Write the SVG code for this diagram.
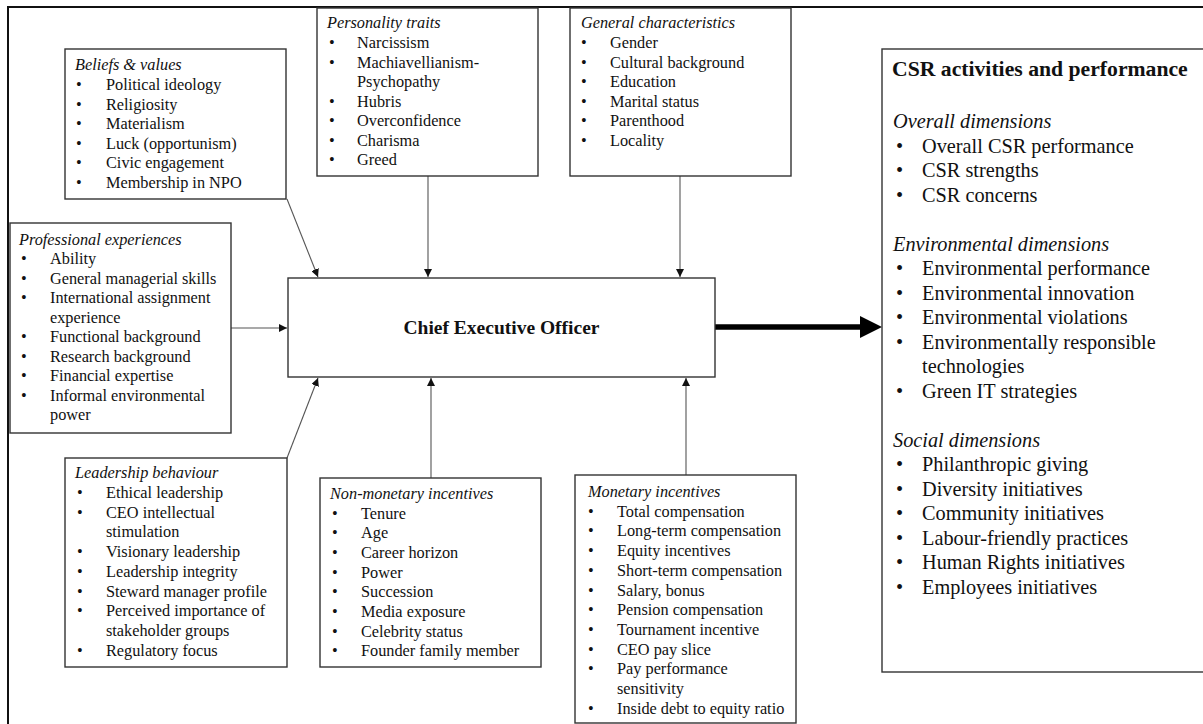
<svg xmlns="http://www.w3.org/2000/svg" width="1203" height="724" viewBox="0 0 1203 724">
  <defs>
    <marker id="tip" viewBox="0 0 10 10" refX="10" refY="5" markerWidth="8" markerHeight="8" markerUnits="userSpaceOnUse" orient="auto">
      <path d="M0,0 L10,5 L0,10 z" fill="#111"/>
    </marker>
    <style>
      .frame { fill: none; stroke: #111; stroke-width: 2; }
      .box { fill: #fff; stroke: #333; stroke-width: 1.4; }
      .t { font-family: "Liberation Serif", "Times New Roman", serif; font-size: 16.3px; fill: #111; }
      .big { font-size: 20.3px; }
      .it { font-style: italic; }
      .bold { font-weight: bold; }
      .link { fill: none; stroke: #555; stroke-width: 1.1; marker-end: url(#tip); }
      .main { fill: none; stroke: #000; stroke-width: 5.5; }
    </style>
  </defs>

  <rect width="1203" height="724" fill="#fff"/>

  <!-- outer frame (open at right and bottom) -->
  <path class="frame" d="M8,730 L8,7 L1210,7"/>

  <!-- connectors -->
  <g id="connectors">
    <line class="link" x1="287" y1="199" x2="318" y2="277"/>
    <line class="link" x1="428" y1="176" x2="428" y2="277"/>
    <line class="link" x1="680" y1="176" x2="680" y2="277"/>
    <line class="link" x1="231" y1="328" x2="287" y2="328"/>
    <line class="link" x1="287" y1="458" x2="318" y2="378"/>
    <line class="link" x1="431" y1="478" x2="431" y2="378"/>
    <line class="link" x1="686" y1="475" x2="686" y2="378"/>
    <line class="main" x1="715" y1="327" x2="864" y2="327"/>
    <path d="M860,316 L882,327 L860,338 z" fill="#000"/>
  </g>

  <!-- Beliefs & values -->
  <g id="beliefs">
    <rect class="box" x="65" y="49" width="221" height="150"/>
    <text class="t it" x="75" y="70">Beliefs &amp; values</text>
    <text class="t">
      <tspan x="76" y="90">•</tspan><tspan x="106" y="90">Political ideology</tspan>
      <tspan x="76" y="109.5">•</tspan><tspan x="106" y="109.5">Religiosity</tspan>
      <tspan x="76" y="129">•</tspan><tspan x="106" y="129">Materialism</tspan>
      <tspan x="76" y="148.5">•</tspan><tspan x="106" y="148.5">Luck (opportunism)</tspan>
      <tspan x="76" y="168">•</tspan><tspan x="106" y="168">Civic engagement</tspan>
      <tspan x="76" y="187.5">•</tspan><tspan x="106" y="187.5">Membership in NPO</tspan>
    </text>
  </g>

  <!-- Personality traits -->
  <g id="personality">
    <rect class="box" x="317" y="8" width="221" height="168"/>
    <text class="t it" x="327" y="28">Personality traits</text>
    <text class="t">
      <tspan x="329" y="48">•</tspan><tspan x="357" y="48">Narcissism</tspan>
      <tspan x="329" y="67.5">•</tspan><tspan x="357" y="67.5">Machiavellianism-</tspan>
      <tspan x="357" y="87">Psychopathy</tspan>
      <tspan x="329" y="106.5">•</tspan><tspan x="357" y="106.5">Hubris</tspan>
      <tspan x="329" y="126">•</tspan><tspan x="357" y="126">Overconfidence</tspan>
      <tspan x="329" y="145.5">•</tspan><tspan x="357" y="145.5">Charisma</tspan>
      <tspan x="329" y="165">•</tspan><tspan x="357" y="165">Greed</tspan>
    </text>
  </g>

  <!-- General characteristics -->
  <g id="general">
    <rect class="box" x="570" y="8" width="221" height="168"/>
    <text class="t it" x="581" y="28">General characteristics</text>
    <text class="t">
      <tspan x="581" y="48">•</tspan><tspan x="610" y="48">Gender</tspan>
      <tspan x="581" y="67.5">•</tspan><tspan x="610" y="67.5">Cultural background</tspan>
      <tspan x="581" y="87">•</tspan><tspan x="610" y="87">Education</tspan>
      <tspan x="581" y="106.5">•</tspan><tspan x="610" y="106.5">Marital status</tspan>
      <tspan x="581" y="126">•</tspan><tspan x="610" y="126">Parenthood</tspan>
      <tspan x="581" y="145.5">•</tspan><tspan x="610" y="145.5">Locality</tspan>
    </text>
  </g>

  <!-- Professional experiences -->
  <g id="professional">
    <rect class="box" x="10" y="223" width="221" height="210"/>
    <text class="t it" x="19" y="245">Professional experiences</text>
    <text class="t">
      <tspan x="21" y="264">•</tspan><tspan x="50" y="264">Ability</tspan>
      <tspan x="21" y="283.5">•</tspan><tspan x="50" y="283.5">General managerial skills</tspan>
      <tspan x="21" y="303">•</tspan><tspan x="50" y="303">International assignment</tspan>
      <tspan x="50" y="322.5">experience</tspan>
      <tspan x="21" y="342">•</tspan><tspan x="50" y="342">Functional background</tspan>
      <tspan x="21" y="361.5">•</tspan><tspan x="50" y="361.5">Research background</tspan>
      <tspan x="21" y="381">•</tspan><tspan x="50" y="381">Financial expertise</tspan>
      <tspan x="21" y="400.5">•</tspan><tspan x="50" y="400.5">Informal environmental</tspan>
      <tspan x="50" y="420">power</tspan>
    </text>
  </g>

  <!-- Chief Executive Officer -->
  <g id="ceo">
    <rect class="box" x="288" y="278" width="427" height="99"/>
    <text class="t bold" x="501.5" y="334" text-anchor="middle" style="font-size:19.5px">Chief Executive Officer</text>
  </g>

  <!-- Leadership behaviour -->
  <g id="leadership">
    <rect class="box" x="65" y="458" width="222" height="209"/>
    <text class="t it" x="75" y="478">Leadership behaviour</text>
    <text class="t">
      <tspan x="77" y="498">•</tspan><tspan x="106" y="498">Ethical leadership</tspan>
      <tspan x="77" y="517.7">•</tspan><tspan x="106" y="517.7">CEO intellectual</tspan>
      <tspan x="106" y="537.4">stimulation</tspan>
      <tspan x="77" y="557.1">•</tspan><tspan x="106" y="557.1">Visionary leadership</tspan>
      <tspan x="77" y="576.8">•</tspan><tspan x="106" y="576.8">Leadership integrity</tspan>
      <tspan x="77" y="596.5">•</tspan><tspan x="106" y="596.5">Steward manager profile</tspan>
      <tspan x="77" y="616.2">•</tspan><tspan x="106" y="616.2">Perceived importance of</tspan>
      <tspan x="106" y="635.9">stakeholder groups</tspan>
      <tspan x="77" y="655.6">•</tspan><tspan x="106" y="655.6">Regulatory focus</tspan>
    </text>
  </g>

  <!-- Non-monetary incentives -->
  <g id="nonmonetary">
    <rect class="box" x="320" y="478" width="221" height="189"/>
    <text class="t it" x="330" y="499">Non-monetary incentives</text>
    <text class="t">
      <tspan x="332" y="518.5">•</tspan><tspan x="361" y="518.5">Tenure</tspan>
      <tspan x="332" y="538.2">•</tspan><tspan x="361" y="538.2">Age</tspan>
      <tspan x="332" y="557.9">•</tspan><tspan x="361" y="557.9">Career horizon</tspan>
      <tspan x="332" y="577.6">•</tspan><tspan x="361" y="577.6">Power</tspan>
      <tspan x="332" y="597.3">•</tspan><tspan x="361" y="597.3">Succession</tspan>
      <tspan x="332" y="617">•</tspan><tspan x="361" y="617">Media exposure</tspan>
      <tspan x="332" y="636.7">•</tspan><tspan x="361" y="636.7">Celebrity status</tspan>
      <tspan x="332" y="656.4">•</tspan><tspan x="361" y="656.4">Founder family member</tspan>
    </text>
  </g>

  <!-- Monetary incentives -->
  <g id="monetary">
    <rect class="box" x="575" y="475" width="221" height="248"/>
    <text class="t it" x="588" y="497">Monetary incentives</text>
    <text class="t">
      <tspan x="588" y="516.7">•</tspan><tspan x="617" y="516.7">Total compensation</tspan>
      <tspan x="588" y="536.4">•</tspan><tspan x="617" y="536.4">Long-term compensation</tspan>
      <tspan x="588" y="556.1">•</tspan><tspan x="617" y="556.1">Equity incentives</tspan>
      <tspan x="588" y="575.8">•</tspan><tspan x="617" y="575.8">Short-term compensation</tspan>
      <tspan x="588" y="595.5">•</tspan><tspan x="617" y="595.5">Salary, bonus</tspan>
      <tspan x="588" y="615.2">•</tspan><tspan x="617" y="615.2">Pension compensation</tspan>
      <tspan x="588" y="634.9">•</tspan><tspan x="617" y="634.9">Tournament incentive</tspan>
      <tspan x="588" y="654.6">•</tspan><tspan x="617" y="654.6">CEO pay slice</tspan>
      <tspan x="588" y="674.3">•</tspan><tspan x="617" y="674.3">Pay performance</tspan>
      <tspan x="617" y="694">sensitivity</tspan>
      <tspan x="588" y="713.7">•</tspan><tspan x="617" y="713.7">Inside debt to equity ratio</tspan>
    </text>
  </g>

  <!-- CSR activities and performance -->
  <g id="csr">
    <rect class="box" x="882" y="49" width="330" height="623"/>
    <text class="t bold" x="892" y="76" style="font-size:21.7px">CSR activities and performance</text>
    <text class="t big it" x="893" y="128">Overall dimensions</text>
    <text class="t big">
      <tspan x="896" y="152.5">•</tspan><tspan x="922" y="152.5">Overall CSR performance</tspan>
      <tspan x="896" y="177">•</tspan><tspan x="922" y="177">CSR strengths</tspan>
      <tspan x="896" y="201.5">•</tspan><tspan x="922" y="201.5">CSR concerns</tspan>
    </text>
    <text class="t big it" x="893" y="250.5">Environmental dimensions</text>
    <text class="t big">
      <tspan x="896" y="275">•</tspan><tspan x="922" y="275">Environmental performance</tspan>
      <tspan x="896" y="299.5">•</tspan><tspan x="922" y="299.5">Environmental innovation</tspan>
      <tspan x="896" y="324">•</tspan><tspan x="922" y="324">Environmental violations</tspan>
      <tspan x="896" y="348.5">•</tspan><tspan x="922" y="348.5">Environmentally responsible</tspan>
      <tspan x="922" y="373">technologies</tspan>
      <tspan x="896" y="397.5">•</tspan><tspan x="922" y="397.5">Green IT strategies</tspan>
    </text>
    <text class="t big it" x="893" y="446.5">Social dimensions</text>
    <text class="t big">
      <tspan x="896" y="471">•</tspan><tspan x="922" y="471">Philanthropic giving</tspan>
      <tspan x="896" y="495.5">•</tspan><tspan x="922" y="495.5">Diversity initiatives</tspan>
      <tspan x="896" y="520">•</tspan><tspan x="922" y="520">Community initiatives</tspan>
      <tspan x="896" y="544.5">•</tspan><tspan x="922" y="544.5">Labour-friendly practices</tspan>
      <tspan x="896" y="569">•</tspan><tspan x="922" y="569">Human Rights initiatives</tspan>
      <tspan x="896" y="593.5">•</tspan><tspan x="922" y="593.5">Employees initiatives</tspan>
    </text>
  </g>
</svg>
